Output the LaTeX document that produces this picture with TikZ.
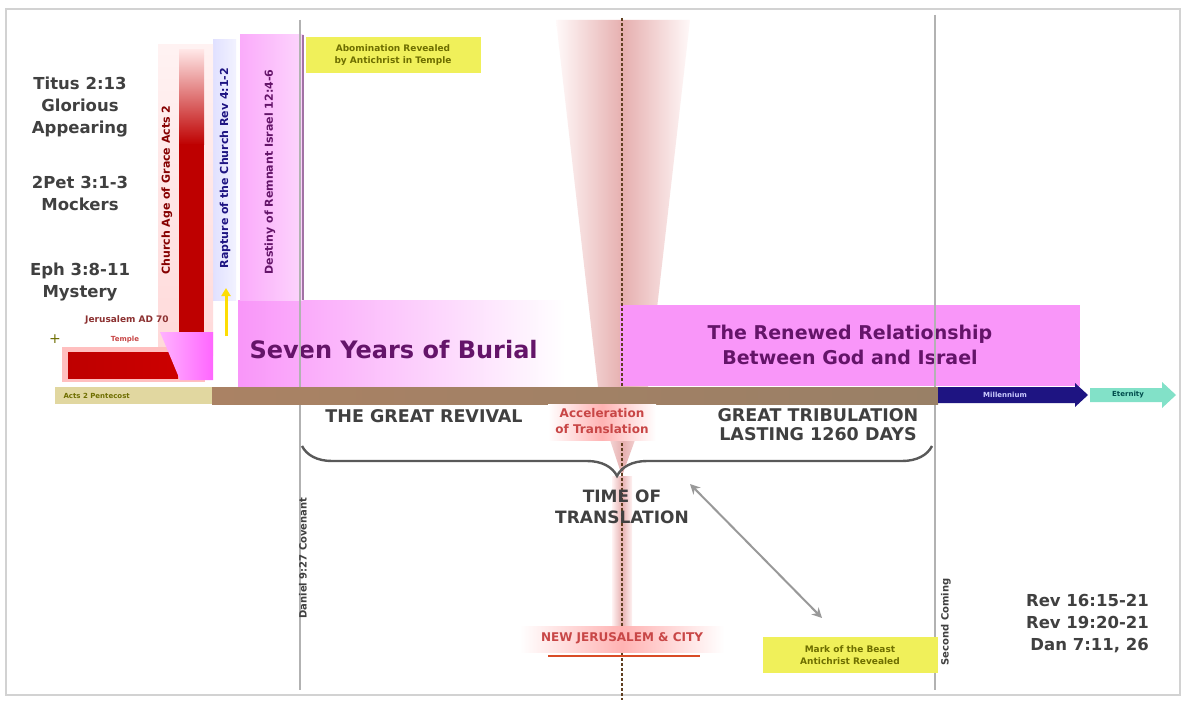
\documentclass[tikz,border=0pt]{standalone}
\usepackage{fontspec}
\setmainfont{DejaVu Sans}
\usetikzlibrary{arrows.meta,decorations.pathreplacing,shapes.arrows}
\definecolor{pinkbox}{RGB}{249,150,249}
\definecolor{purpletxt}{RGB}{100,20,105}
\definecolor{darkred}{RGB}{190,0,0}
\definecolor{labelred}{RGB}{200,70,70}
\definecolor{olive2}{RGB}{110,110,0}
\definecolor{yellowbg}{RGB}{240,240,90}
\definecolor{navy2}{RGB}{30,20,130}
\definecolor{teal2}{RGB}{130,225,200}
\definecolor{brownbar}{RGB}{170,130,100}
\definecolor{khaki2}{RGB}{225,215,160}
\definecolor{funnel}{RGB}{230,175,175}
\tikzset{
  reftext/.style={font=\bfseries\fontsize{16.5}{22}\selectfont, text=black!75, align=center, inner sep=1pt},
  captext/.style={font=\bfseries\fontsize{17.5}{19}\selectfont, text=black!75, align=center, inner sep=1pt},
  yellowlabel/.style={fill=yellowbg, text=olive2, font=\bfseries\fontsize{9}{12}\selectfont, align=center, inner sep=2pt, minimum width=175, minimum height=36},
  redlabel/.style={text=labelred, font=\bfseries\fontsize{12}{16}\selectfont, align=center, inner sep=2pt},
  vtext/.style={rotate=90, font=\bfseries\fontsize{11}{12}\selectfont, inner sep=0pt},
  vline/.style={gray!60, line width=1.6},
}
\begin{document}
\begin{tikzpicture}[x=1pt,y=-1pt]
\useasboundingbox (0,0) rectangle (1185,703);
\fill[white] (0,0) rectangle (1185,703);
\draw[gray!35, line width=2] (6,9) rectangle (1180,695);

% central funnel
\shade[left color=pink!10, right color=pink!10, middle color=funnel] (556,20) -- (690,20) -- (648,387) -- (598,387) -- cycle;
\shade[left color=pink!20, right color=pink!20, middle color=funnel] (598,404) -- (648,404) -- (622,476) -- cycle;
\shade[left color=pink!20, right color=pink!20, middle color=funnel] (612,476) rectangle (632,630);

% Seven years box
\shade[left color=pinkbox, right color=white] (238,300) rectangle (565,386);
\node[font=\bfseries\fontsize{24}{26}\selectfont, text=purpletxt, anchor=west] (seven) at (246,350) {Seven Years of Burial};

% Renewed relationship box
\fill[pinkbox] (620,305) rectangle (1080,386);
\node[font=\bfseries\fontsize{19}{25}\selectfont, text=purpletxt, align=center] (renewed) at (850,345) {The Renewed Relationship\\Between God and Israel};

% left vertical bars
\shade[left color=pinkbox!80, right color=pinkbox!40] (240,35) rectangle (303,300);
\draw[purpletxt!60, line width=1.2] (303,35) -- (303,300);
\node[vtext, text=purpletxt] (pinkv) at (270,172) {Destiny of Remnant Israel 12:4-6};
\shade[left color=blue!12, right color=blue!5] (213,40) rectangle (236,300);
\node[vtext, text=navy2] (bluev) at (225,168) {Rapture of the Church Rev 4:1-2};
\shade[top color=pink!20, bottom color=pink!60] (158,45) rectangle (213,355);
\shade[top color=pink!40, bottom color=darkred] (179,50) rectangle (204,145);
\fill[darkred] (179,144) rectangle (204,332);
\node[vtext, text=darkred!70!black] (redv) at (167,190) {Church Age of Grace Acts 2};

% bottom-left red block
\fill[red!25] (62,347) rectangle (205,382);
\shade[left color=darkred, right color=red!80!black] (68,352) rectangle (178,378);
\shade[left color=magenta!30, right color=magenta!60] (160,332) -- (213,332) -- (213,380) -- (180,380) -- cycle;
\node[font=\bfseries\fontsize{9}{10}\selectfont, text=labelred!70!black] (jer) at (127,320) {Jerusalem AD 70};
\node[font=\bfseries\fontsize{7}{8}\selectfont, text=labelred] (jer2) at (125,340) {Temple};
\node[font=\fontsize{14}{14}\selectfont, text=olive2] (plus) at (55,339) {+};
\draw[-{Triangle[length=8,width=9]}, yellow!80!orange, line width=3] (226,336) -- (226,288);

% left texts
\node[reftext] (titus) at (80,107) {Titus 2:13\\Glorious\\Appearing};
\node[reftext] (pet) at (80,193) {2Pet 3:1-3\\Mockers};
\node[reftext] (eph) at (80,282) {Eph 3:8-11\\Mystery};

% vertical lines
\draw[vline] (300,20) -- (300,690);
\draw[vline] (935,15) -- (935,690);
\node[vtext, text=black!75, font=\bfseries\fontsize{10}{10}\selectfont] (lv) at (303,558) {Daniel 9:27 Covenant};
\node[vtext, text=black!75, font=\bfseries\fontsize{10}{10}\selectfont] (rv) at (946,622) {Second Coming};

% center dotted line
\draw[brown!50!black, line width=1.2, dash pattern=on 3pt off 2pt] (622,18) -- (622,700);

% timeline
\fill[khaki2] (55,387) rectangle (212,404);
\node[font=\bfseries\fontsize{7}{8}\selectfont, text=olive2, anchor=west] (pent) at (60,395.5) {Acts 2 Pentecost};
\shade[left color=brownbar, right color=gray!60!brown] (212,387) rectangle (938,404);
\fill[navy2] (938,387) -- (1075,387) -- (1075,383) -- (1088,395) -- (1075,407) -- (1075,403) -- (938,403) -- cycle;
\node[font=\bfseries\fontsize{7}{8}\selectfont, text=blue!20] (mill) at (1005,395) {Millennium};
\fill[teal2] (1090,388) -- (1162,388) -- (1162,382) -- (1176,395) -- (1162,408) -- (1162,402) -- (1090,402) -- cycle;
\node[font=\bfseries\fontsize{7}{8}\selectfont, text=teal!60!black] (etern) at (1128,395) {Eternity};

% top yellow label
\node[yellowlabel] (topy) at (393,55) {Abomination Revealed\\by Antichrist in Temple};

% below timeline
\node[captext] (revival) at (424,416) {THE GREAT REVIVAL};
\shade[left color=white, right color=white, middle color=red!30] (548,404) rectangle (656,440);
\node[redlabel] (accel) at (602,421) {Acceleration\\of Translation};
\node[captext] (trib) at (818,425) {GREAT TRIBULATION\\LASTING 1260 DAYS};
\draw[decorate, decoration={brace, amplitude=30, mirror}, black!65, line width=2.4] (302,446) -- (932,446);
\node[font=\bfseries\fontsize{17}{21}\selectfont, text=black!75, align=center] (time) at (622,507) {TIME OF\\TRANSLATION};
\draw[{Stealth[length=10,width=10]}-{Stealth[length=10,width=10]}, black!40, line width=2] (690,484) -- (822,618);

\shade[left color=white, right color=white, middle color=red!30] (520,626) rectangle (724,652);
\node[redlabel] (newj) at (622,638) {NEW JERUSALEM \& CITY};
\draw[red!40!brown, line width=2] (548,656) -- (700,656);
\node[yellowlabel] (boty) at (850,655) {Mark of the Beast\\Antichrist Revealed};

\node[reftext, align=right, anchor=east, font=\bfseries\fontsize{16.5}{22}\selectfont] (revs) at (1150,624) {Rev 16:15-21\\Rev 19:20-21\\Dan 7:11, 26};
\end{tikzpicture}
\end{document}
